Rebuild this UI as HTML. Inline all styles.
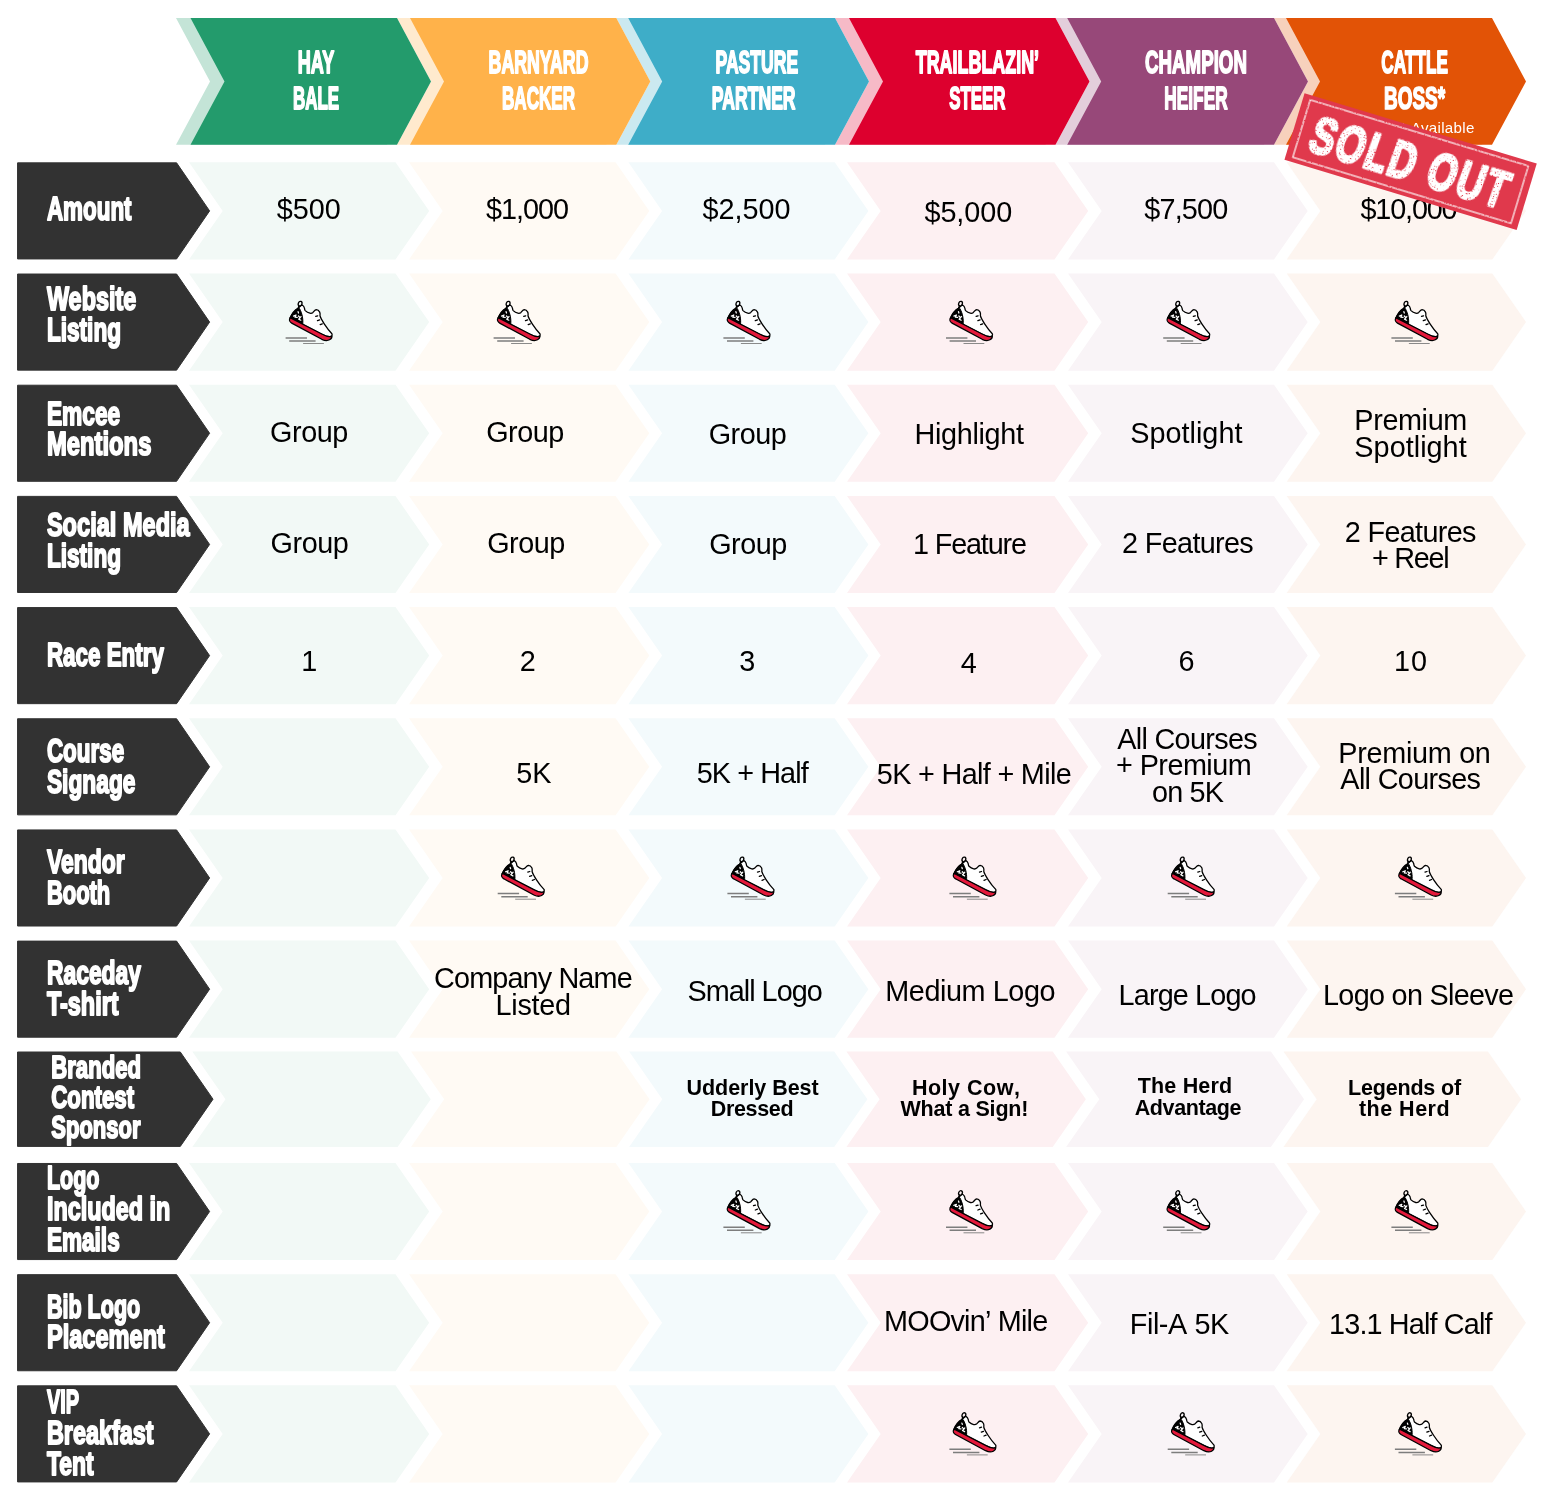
<!DOCTYPE html>
<html lang="en">
<head>
<meta charset="utf-8">
<title>Sponsorship Levels</title>
<style>
html,body{margin:0;padding:0;background:#fff;}
body{width:1545px;height:1497px;overflow:hidden;font-family:"Liberation Sans",sans-serif;}
svg{display:block;}
svg text{white-space:pre;}
</style>
</head>
<body>
<svg width="1545" height="1497" viewBox="0 0 1545 1497">
<rect width="1545" height="1497" fill="#fff"/>
<polygon points="176,18 387,18 421,81.4 387,144.8 176,144.8 210,81.4" fill="#c4e4d7"/>
<polygon points="397,18 606.3,18 640.3,81.4 606.3,144.8 397,144.8 431,81.4" fill="#ffeace"/>
<polygon points="616.3,18 825,18 859,81.4 825,144.8 616.3,144.8 650.3,81.4" fill="#cbe9f0"/>
<polygon points="835,18 1045.5,18 1079.5,81.4 1045.5,144.8 835,144.8 869,81.4" fill="#f6bac7"/>
<polygon points="1055.5,18 1264,18 1298,81.4 1264,144.8 1055.5,144.8 1089.5,81.4" fill="#e3cedb"/>
<polygon points="1274,18 1482,18 1516,81.4 1482,144.8 1274,144.8 1308,81.4" fill="#f7d1bc"/>
<polygon points="190.5,18 397,18 431,81.4 397,144.8 190.5,144.8 224.5,81.4" fill="#239b6c"/>
<polygon points="410,18 616.3,18 650.3,81.4 616.3,144.8 410,144.8 444,81.4" fill="#ffb24a"/>
<polygon points="628.2,18 835,18 869,81.4 835,144.8 628.2,144.8 662.2,81.4" fill="#3eadc8"/>
<polygon points="849,18 1055.5,18 1089.5,81.4 1055.5,144.8 849,144.8 883,81.4" fill="#dd002e"/>
<polygon points="1067.2,18 1274,18 1308,81.4 1274,144.8 1067.2,144.8 1101.2,81.4" fill="#974879"/>
<polygon points="1286,18 1492,18 1526,81.4 1492,144.8 1286,144.8 1320,81.4" fill="#e25306"/>
<polygon points="17.55,162.85 176.6,162.85 209.6,210.9 176.6,258.95 17.55,258.95" fill="#323232" stroke="#323232" stroke-width="1" stroke-linejoin="round"/>
<polygon points="189,162.35 395.5,162.35 429.2,210.9 395.5,259.45 189,259.45 222.7,210.9" fill="#f2f9f6"/>
<polygon points="409,162.35 615.6,162.35 649.3,210.9 615.6,259.45 409,259.45 442.7,210.9" fill="#fffaf4"/>
<polygon points="628.4,162.35 834.7,162.35 868.4,210.9 834.7,259.45 628.4,259.45 662.1,210.9" fill="#f3fafc"/>
<polygon points="847,162.35 1054.5,162.35 1088.2,210.9 1054.5,259.45 847,259.45 880.7,210.9" fill="#fdf0f2"/>
<polygon points="1068,162.35 1274,162.35 1307.7,210.9 1274,259.45 1068,259.45 1101.7,210.9" fill="#f9f4f7"/>
<polygon points="1286.7,162.35 1492.3,162.35 1526,210.9 1492.3,259.45 1286.7,259.45 1320.4,210.9" fill="#fdf5f0"/>
<polygon points="17.55,274.03 176.6,274.03 209.6,322.08 176.6,370.13 17.55,370.13" fill="#323232" stroke="#323232" stroke-width="1" stroke-linejoin="round"/>
<polygon points="189,273.53 395.5,273.53 429.2,322.08 395.5,370.63 189,370.63 222.7,322.08" fill="#f2f9f6"/>
<polygon points="409,273.53 615.6,273.53 649.3,322.08 615.6,370.63 409,370.63 442.7,322.08" fill="#fffaf4"/>
<polygon points="628.4,273.53 834.7,273.53 868.4,322.08 834.7,370.63 628.4,370.63 662.1,322.08" fill="#f3fafc"/>
<polygon points="847,273.53 1054.5,273.53 1088.2,322.08 1054.5,370.63 847,370.63 880.7,322.08" fill="#fdf0f2"/>
<polygon points="1068,273.53 1274,273.53 1307.7,322.08 1274,370.63 1068,370.63 1101.7,322.08" fill="#f9f4f7"/>
<polygon points="1286.7,273.53 1492.3,273.53 1526,322.08 1492.3,370.63 1286.7,370.63 1320.4,322.08" fill="#fdf5f0"/>
<polygon points="17.55,385.21 176.6,385.21 209.6,433.26 176.6,481.31 17.55,481.31" fill="#323232" stroke="#323232" stroke-width="1" stroke-linejoin="round"/>
<polygon points="189,384.71 395.5,384.71 429.2,433.26 395.5,481.81 189,481.81 222.7,433.26" fill="#f2f9f6"/>
<polygon points="409,384.71 615.6,384.71 649.3,433.26 615.6,481.81 409,481.81 442.7,433.26" fill="#fffaf4"/>
<polygon points="628.4,384.71 834.7,384.71 868.4,433.26 834.7,481.81 628.4,481.81 662.1,433.26" fill="#f3fafc"/>
<polygon points="847,384.71 1054.5,384.71 1088.2,433.26 1054.5,481.81 847,481.81 880.7,433.26" fill="#fdf0f2"/>
<polygon points="1068,384.71 1274,384.71 1307.7,433.26 1274,481.81 1068,481.81 1101.7,433.26" fill="#f9f4f7"/>
<polygon points="1286.7,384.71 1492.3,384.71 1526,433.26 1492.3,481.81 1286.7,481.81 1320.4,433.26" fill="#fdf5f0"/>
<polygon points="17.55,496.39 176.6,496.39 209.6,544.44 176.6,592.49 17.55,592.49" fill="#323232" stroke="#323232" stroke-width="1" stroke-linejoin="round"/>
<polygon points="189,495.89 395.5,495.89 429.2,544.44 395.5,592.99 189,592.99 222.7,544.44" fill="#f2f9f6"/>
<polygon points="409,495.89 615.6,495.89 649.3,544.44 615.6,592.99 409,592.99 442.7,544.44" fill="#fffaf4"/>
<polygon points="628.4,495.89 834.7,495.89 868.4,544.44 834.7,592.99 628.4,592.99 662.1,544.44" fill="#f3fafc"/>
<polygon points="847,495.89 1054.5,495.89 1088.2,544.44 1054.5,592.99 847,592.99 880.7,544.44" fill="#fdf0f2"/>
<polygon points="1068,495.89 1274,495.89 1307.7,544.44 1274,592.99 1068,592.99 1101.7,544.44" fill="#f9f4f7"/>
<polygon points="1286.7,495.89 1492.3,495.89 1526,544.44 1492.3,592.99 1286.7,592.99 1320.4,544.44" fill="#fdf5f0"/>
<polygon points="17.55,607.57 176.6,607.57 209.6,655.62 176.6,703.67 17.55,703.67" fill="#323232" stroke="#323232" stroke-width="1" stroke-linejoin="round"/>
<polygon points="189,607.07 395.5,607.07 429.2,655.62 395.5,704.17 189,704.17 222.7,655.62" fill="#f2f9f6"/>
<polygon points="409,607.07 615.6,607.07 649.3,655.62 615.6,704.17 409,704.17 442.7,655.62" fill="#fffaf4"/>
<polygon points="628.4,607.07 834.7,607.07 868.4,655.62 834.7,704.17 628.4,704.17 662.1,655.62" fill="#f3fafc"/>
<polygon points="847,607.07 1054.5,607.07 1088.2,655.62 1054.5,704.17 847,704.17 880.7,655.62" fill="#fdf0f2"/>
<polygon points="1068,607.07 1274,607.07 1307.7,655.62 1274,704.17 1068,704.17 1101.7,655.62" fill="#f9f4f7"/>
<polygon points="1286.7,607.07 1492.3,607.07 1526,655.62 1492.3,704.17 1286.7,704.17 1320.4,655.62" fill="#fdf5f0"/>
<polygon points="17.55,718.75 176.6,718.75 209.6,766.8 176.6,814.85 17.55,814.85" fill="#323232" stroke="#323232" stroke-width="1" stroke-linejoin="round"/>
<polygon points="189,718.25 395.5,718.25 429.2,766.8 395.5,815.35 189,815.35 222.7,766.8" fill="#f2f9f6"/>
<polygon points="409,718.25 615.6,718.25 649.3,766.8 615.6,815.35 409,815.35 442.7,766.8" fill="#fffaf4"/>
<polygon points="628.4,718.25 834.7,718.25 868.4,766.8 834.7,815.35 628.4,815.35 662.1,766.8" fill="#f3fafc"/>
<polygon points="847,718.25 1054.5,718.25 1088.2,766.8 1054.5,815.35 847,815.35 880.7,766.8" fill="#fdf0f2"/>
<polygon points="1068,718.25 1274,718.25 1307.7,766.8 1274,815.35 1068,815.35 1101.7,766.8" fill="#f9f4f7"/>
<polygon points="1286.7,718.25 1492.3,718.25 1526,766.8 1492.3,815.35 1286.7,815.35 1320.4,766.8" fill="#fdf5f0"/>
<polygon points="17.55,829.93 176.6,829.93 209.6,877.98 176.6,926.03 17.55,926.03" fill="#323232" stroke="#323232" stroke-width="1" stroke-linejoin="round"/>
<polygon points="189,829.43 395.5,829.43 429.2,877.98 395.5,926.53 189,926.53 222.7,877.98" fill="#f2f9f6"/>
<polygon points="409,829.43 615.6,829.43 649.3,877.98 615.6,926.53 409,926.53 442.7,877.98" fill="#fffaf4"/>
<polygon points="628.4,829.43 834.7,829.43 868.4,877.98 834.7,926.53 628.4,926.53 662.1,877.98" fill="#f3fafc"/>
<polygon points="847,829.43 1054.5,829.43 1088.2,877.98 1054.5,926.53 847,926.53 880.7,877.98" fill="#fdf0f2"/>
<polygon points="1068,829.43 1274,829.43 1307.7,877.98 1274,926.53 1068,926.53 1101.7,877.98" fill="#f9f4f7"/>
<polygon points="1286.7,829.43 1492.3,829.43 1526,877.98 1492.3,926.53 1286.7,926.53 1320.4,877.98" fill="#fdf5f0"/>
<polygon points="17.55,941.11 176.6,941.11 209.6,989.16 176.6,1037.21 17.55,1037.21" fill="#323232" stroke="#323232" stroke-width="1" stroke-linejoin="round"/>
<polygon points="189,940.61 395.5,940.61 429.2,989.16 395.5,1037.71 189,1037.71 222.7,989.16" fill="#f2f9f6"/>
<polygon points="409,940.61 615.6,940.61 649.3,989.16 615.6,1037.71 409,1037.71 442.7,989.16" fill="#fffaf4"/>
<polygon points="628.4,940.61 834.7,940.61 868.4,989.16 834.7,1037.71 628.4,1037.71 662.1,989.16" fill="#f3fafc"/>
<polygon points="847,940.61 1054.5,940.61 1088.2,989.16 1054.5,1037.71 847,1037.71 880.7,989.16" fill="#fdf0f2"/>
<polygon points="1068,940.61 1274,940.61 1307.7,989.16 1274,1037.71 1068,1037.71 1101.7,989.16" fill="#f9f4f7"/>
<polygon points="1286.7,940.61 1492.3,940.61 1526,989.16 1492.3,1037.71 1286.7,1037.71 1320.4,989.16" fill="#fdf5f0"/>
<polygon points="17.5,1052 180.3,1052 213,1099.2 180.3,1146.4 17.5,1146.4" fill="#323232" stroke="#323232" stroke-width="1" stroke-linejoin="round"/>
<polygon points="192.3,1051.5 397.58,1051.5 430.78,1099.2 397.58,1146.9 192.3,1146.9 225.5,1099.2" fill="#f2f9f6"/>
<polygon points="411,1051.5 616.38,1051.5 649.58,1099.2 616.38,1146.9 411,1146.9 444.2,1099.2" fill="#fffaf4"/>
<polygon points="629.11,1051.5 834.19,1051.5 867.39,1099.2 834.19,1146.9 629.11,1146.9 662.31,1099.2" fill="#f3fafc"/>
<polygon points="846.42,1051.5 1052.69,1051.5 1085.89,1099.2 1052.69,1146.9 846.42,1146.9 879.62,1099.2" fill="#fdf0f2"/>
<polygon points="1066.11,1051.5 1270.9,1051.5 1304.1,1099.2 1270.9,1146.9 1066.11,1146.9 1099.31,1099.2" fill="#f9f4f7"/>
<polygon points="1283.52,1051.5 1487.91,1051.5 1521.11,1099.2 1487.91,1146.9 1283.52,1146.9 1316.72,1099.2" fill="#fdf5f0"/>
<polygon points="17.55,1163.47 176.6,1163.47 209.6,1211.52 176.6,1259.57 17.55,1259.57" fill="#323232" stroke="#323232" stroke-width="1" stroke-linejoin="round"/>
<polygon points="189,1162.97 395.5,1162.97 429.2,1211.52 395.5,1260.07 189,1260.07 222.7,1211.52" fill="#f2f9f6"/>
<polygon points="409,1162.97 615.6,1162.97 649.3,1211.52 615.6,1260.07 409,1260.07 442.7,1211.52" fill="#fffaf4"/>
<polygon points="628.4,1162.97 834.7,1162.97 868.4,1211.52 834.7,1260.07 628.4,1260.07 662.1,1211.52" fill="#f3fafc"/>
<polygon points="847,1162.97 1054.5,1162.97 1088.2,1211.52 1054.5,1260.07 847,1260.07 880.7,1211.52" fill="#fdf0f2"/>
<polygon points="1068,1162.97 1274,1162.97 1307.7,1211.52 1274,1260.07 1068,1260.07 1101.7,1211.52" fill="#f9f4f7"/>
<polygon points="1286.7,1162.97 1492.3,1162.97 1526,1211.52 1492.3,1260.07 1286.7,1260.07 1320.4,1211.52" fill="#fdf5f0"/>
<polygon points="17.55,1274.65 176.6,1274.65 209.6,1322.7 176.6,1370.75 17.55,1370.75" fill="#323232" stroke="#323232" stroke-width="1" stroke-linejoin="round"/>
<polygon points="189,1274.15 395.5,1274.15 429.2,1322.7 395.5,1371.25 189,1371.25 222.7,1322.7" fill="#f2f9f6"/>
<polygon points="409,1274.15 615.6,1274.15 649.3,1322.7 615.6,1371.25 409,1371.25 442.7,1322.7" fill="#fffaf4"/>
<polygon points="628.4,1274.15 834.7,1274.15 868.4,1322.7 834.7,1371.25 628.4,1371.25 662.1,1322.7" fill="#f3fafc"/>
<polygon points="847,1274.15 1054.5,1274.15 1088.2,1322.7 1054.5,1371.25 847,1371.25 880.7,1322.7" fill="#fdf0f2"/>
<polygon points="1068,1274.15 1274,1274.15 1307.7,1322.7 1274,1371.25 1068,1371.25 1101.7,1322.7" fill="#f9f4f7"/>
<polygon points="1286.7,1274.15 1492.3,1274.15 1526,1322.7 1492.3,1371.25 1286.7,1371.25 1320.4,1322.7" fill="#fdf5f0"/>
<polygon points="17.55,1385.83 176.6,1385.83 209.6,1433.88 176.6,1481.93 17.55,1481.93" fill="#323232" stroke="#323232" stroke-width="1" stroke-linejoin="round"/>
<polygon points="189,1385.33 395.5,1385.33 429.2,1433.88 395.5,1482.43 189,1482.43 222.7,1433.88" fill="#f2f9f6"/>
<polygon points="409,1385.33 615.6,1385.33 649.3,1433.88 615.6,1482.43 409,1482.43 442.7,1433.88" fill="#fffaf4"/>
<polygon points="628.4,1385.33 834.7,1385.33 868.4,1433.88 834.7,1482.43 628.4,1482.43 662.1,1433.88" fill="#f3fafc"/>
<polygon points="847,1385.33 1054.5,1385.33 1088.2,1433.88 1054.5,1482.43 847,1482.43 880.7,1433.88" fill="#fdf0f2"/>
<polygon points="1068,1385.33 1274,1385.33 1307.7,1433.88 1274,1482.43 1068,1482.43 1101.7,1433.88" fill="#f9f4f7"/>
<polygon points="1286.7,1385.33 1492.3,1385.33 1526,1433.88 1492.3,1482.43 1286.7,1482.43 1320.4,1433.88" fill="#fdf5f0"/>
<text transform="translate(316 73.15) scale(0.5893 1.0)" text-anchor="middle" font-family="'Liberation Sans', sans-serif" font-weight="700" font-size="30.73" fill="#fff" stroke="#fff" stroke-width="1.45" stroke-linejoin="round" vector-effect="non-scaling-stroke">HAY</text>
<text transform="translate(316 109.45) scale(0.5522 1.0)" text-anchor="middle" font-family="'Liberation Sans', sans-serif" font-weight="700" font-size="30.73" fill="#fff" stroke="#fff" stroke-width="1.45" stroke-linejoin="round" vector-effect="non-scaling-stroke">BALE</text>
<text transform="translate(538.5 73.15) scale(0.5776 1.0)" text-anchor="middle" font-family="'Liberation Sans', sans-serif" font-weight="700" font-size="30.73" fill="#fff" stroke="#fff" stroke-width="1.45" stroke-linejoin="round" vector-effect="non-scaling-stroke">BARNYARD</text>
<text transform="translate(538.5 109.45) scale(0.5565 1.0)" text-anchor="middle" font-family="'Liberation Sans', sans-serif" font-weight="700" font-size="30.73" fill="#fff" stroke="#fff" stroke-width="1.45" stroke-linejoin="round" vector-effect="non-scaling-stroke">BACKER</text>
<text transform="translate(756.8 73.15) scale(0.5722 1.0)" text-anchor="middle" font-family="'Liberation Sans', sans-serif" font-weight="700" font-size="30.73" fill="#fff" stroke="#fff" stroke-width="1.45" stroke-linejoin="round" vector-effect="non-scaling-stroke">PASTURE</text>
<text transform="translate(753.7 109.45) scale(0.5727 1.0)" text-anchor="middle" font-family="'Liberation Sans', sans-serif" font-weight="700" font-size="30.73" fill="#fff" stroke="#fff" stroke-width="1.45" stroke-linejoin="round" vector-effect="non-scaling-stroke">PARTNER</text>
<text transform="translate(977.4 73.15) scale(0.5832 1.0)" text-anchor="middle" font-family="'Liberation Sans', sans-serif" font-weight="700" font-size="30.73" fill="#fff" stroke="#fff" stroke-width="1.45" stroke-linejoin="round" vector-effect="non-scaling-stroke">TRAILBLAZIN’</text>
<text transform="translate(977.4 109.45) scale(0.5493 1.0)" text-anchor="middle" font-family="'Liberation Sans', sans-serif" font-weight="700" font-size="30.73" fill="#fff" stroke="#fff" stroke-width="1.45" stroke-linejoin="round" vector-effect="non-scaling-stroke">STEER</text>
<text transform="translate(1196 73.15) scale(0.6086 1.0)" text-anchor="middle" font-family="'Liberation Sans', sans-serif" font-weight="700" font-size="30.73" fill="#fff" stroke="#fff" stroke-width="1.45" stroke-linejoin="round" vector-effect="non-scaling-stroke">CHAMPION</text>
<text transform="translate(1196 109.45) scale(0.5619 1.0)" text-anchor="middle" font-family="'Liberation Sans', sans-serif" font-weight="700" font-size="30.73" fill="#fff" stroke="#fff" stroke-width="1.45" stroke-linejoin="round" vector-effect="non-scaling-stroke">HEIFER</text>
<text transform="translate(1414.6 73.15) scale(0.5596 1.0)" text-anchor="middle" font-family="'Liberation Sans', sans-serif" font-weight="700" font-size="30.73" fill="#fff" stroke="#fff" stroke-width="1.45" stroke-linejoin="round" vector-effect="non-scaling-stroke">CATTLE</text>
<text transform="translate(1414.6 109.45) scale(0.6169 1.0)" text-anchor="middle" font-family="'Liberation Sans', sans-serif" font-weight="700" font-size="30.73" fill="#fff" stroke="#fff" stroke-width="1.45" stroke-linejoin="round" vector-effect="non-scaling-stroke">BOSS*</text>
<text x="1474.6" y="133.1" text-anchor="end" font-family="'Liberation Sans', sans-serif" font-size="15.1" fill="#fff" letter-spacing="0.3">*Only 1 Available</text>
<text transform="translate(46.9 220.34) scale(0.6693 1.0)" text-anchor="start" font-family="'Liberation Sans', sans-serif" font-weight="700" font-size="33.51" fill="#fff" stroke="#fff" stroke-width="1.7" stroke-linejoin="round" vector-effect="non-scaling-stroke">Amount</text>
<text transform="translate(46.9 309.74) scale(0.6997 1.0)" text-anchor="start" font-family="'Liberation Sans', sans-serif" font-weight="700" font-size="33.51" fill="#fff" stroke="#fff" stroke-width="1.7" stroke-linejoin="round" vector-effect="non-scaling-stroke">Website</text>
<text transform="translate(46.9 341.13) scale(0.6752 1.0)" text-anchor="start" font-family="'Liberation Sans', sans-serif" font-weight="700" font-size="33.51" fill="#fff" stroke="#fff" stroke-width="1.7" stroke-linejoin="round" vector-effect="non-scaling-stroke">Listing</text>
<text transform="translate(46.9 425.04) scale(0.6789 1.0)" text-anchor="start" font-family="'Liberation Sans', sans-serif" font-weight="700" font-size="33.51" fill="#fff" stroke="#fff" stroke-width="1.7" stroke-linejoin="round" vector-effect="non-scaling-stroke">Emcee</text>
<text transform="translate(46.9 455.13) scale(0.7109 1.0)" text-anchor="start" font-family="'Liberation Sans', sans-serif" font-weight="700" font-size="33.51" fill="#fff" stroke="#fff" stroke-width="1.7" stroke-linejoin="round" vector-effect="non-scaling-stroke">Mentions</text>
<text transform="translate(46.9 535.94) scale(0.7035 1.0)" text-anchor="start" font-family="'Liberation Sans', sans-serif" font-weight="700" font-size="33.51" fill="#fff" stroke="#fff" stroke-width="1.7" stroke-linejoin="round" vector-effect="non-scaling-stroke">Social Media</text>
<text transform="translate(46.9 567.13) scale(0.6752 1.0)" text-anchor="start" font-family="'Liberation Sans', sans-serif" font-weight="700" font-size="33.51" fill="#fff" stroke="#fff" stroke-width="1.7" stroke-linejoin="round" vector-effect="non-scaling-stroke">Listing</text>
<text transform="translate(46.9 666.44) scale(0.6684 1.0)" text-anchor="start" font-family="'Liberation Sans', sans-serif" font-weight="700" font-size="33.51" fill="#fff" stroke="#fff" stroke-width="1.7" stroke-linejoin="round" vector-effect="non-scaling-stroke">Race Entry</text>
<text transform="translate(46.9 761.84) scale(0.6698 1.0)" text-anchor="start" font-family="'Liberation Sans', sans-serif" font-weight="700" font-size="33.51" fill="#fff" stroke="#fff" stroke-width="1.7" stroke-linejoin="round" vector-effect="non-scaling-stroke">Course</text>
<text transform="translate(46.9 792.74) scale(0.6799 1.0)" text-anchor="start" font-family="'Liberation Sans', sans-serif" font-weight="700" font-size="33.51" fill="#fff" stroke="#fff" stroke-width="1.7" stroke-linejoin="round" vector-effect="non-scaling-stroke">Signage</text>
<text transform="translate(46.9 872.94) scale(0.6852 1.0)" text-anchor="start" font-family="'Liberation Sans', sans-serif" font-weight="700" font-size="33.51" fill="#fff" stroke="#fff" stroke-width="1.7" stroke-linejoin="round" vector-effect="non-scaling-stroke">Vendor</text>
<text transform="translate(46.9 903.94) scale(0.6552 1.0)" text-anchor="start" font-family="'Liberation Sans', sans-serif" font-weight="700" font-size="33.51" fill="#fff" stroke="#fff" stroke-width="1.7" stroke-linejoin="round" vector-effect="non-scaling-stroke">Booth</text>
<text transform="translate(46.9 984.03) scale(0.6834 1.0)" text-anchor="start" font-family="'Liberation Sans', sans-serif" font-weight="700" font-size="33.51" fill="#fff" stroke="#fff" stroke-width="1.7" stroke-linejoin="round" vector-effect="non-scaling-stroke">Raceday</text>
<text transform="translate(46.9 1014.94) scale(0.7011 1.0)" text-anchor="start" font-family="'Liberation Sans', sans-serif" font-weight="700" font-size="33.51" fill="#fff" stroke="#fff" stroke-width="1.7" stroke-linejoin="round" vector-effect="non-scaling-stroke">T-shirt</text>
<text transform="translate(51.3 1077.73) scale(0.6751 0.955)" text-anchor="start" font-family="'Liberation Sans', sans-serif" font-weight="700" font-size="32.76" fill="#fff" stroke="#fff" stroke-width="1.7" stroke-linejoin="round" vector-effect="non-scaling-stroke">Branded</text>
<text transform="translate(51.3 1107.73) scale(0.6796 0.955)" text-anchor="start" font-family="'Liberation Sans', sans-serif" font-weight="700" font-size="32.76" fill="#fff" stroke="#fff" stroke-width="1.7" stroke-linejoin="round" vector-effect="non-scaling-stroke">Contest</text>
<text transform="translate(51.3 1137.53) scale(0.6718 0.955)" text-anchor="start" font-family="'Liberation Sans', sans-serif" font-weight="700" font-size="32.76" fill="#fff" stroke="#fff" stroke-width="1.7" stroke-linejoin="round" vector-effect="non-scaling-stroke">Sponsor</text>
<text transform="translate(46.9 1188.93) scale(0.6418 1.0)" text-anchor="start" font-family="'Liberation Sans', sans-serif" font-weight="700" font-size="33.51" fill="#fff" stroke="#fff" stroke-width="1.7" stroke-linejoin="round" vector-effect="non-scaling-stroke">Logo</text>
<text transform="translate(46.9 1220.13) scale(0.6977 1.0)" text-anchor="start" font-family="'Liberation Sans', sans-serif" font-weight="700" font-size="33.51" fill="#fff" stroke="#fff" stroke-width="1.7" stroke-linejoin="round" vector-effect="non-scaling-stroke">Included in</text>
<text transform="translate(46.9 1251.13) scale(0.6742 1.0)" text-anchor="start" font-family="'Liberation Sans', sans-serif" font-weight="700" font-size="33.51" fill="#fff" stroke="#fff" stroke-width="1.7" stroke-linejoin="round" vector-effect="non-scaling-stroke">Emails</text>
<text transform="translate(46.9 1317.63) scale(0.6432 1.0)" text-anchor="start" font-family="'Liberation Sans', sans-serif" font-weight="700" font-size="33.51" fill="#fff" stroke="#fff" stroke-width="1.7" stroke-linejoin="round" vector-effect="non-scaling-stroke">Bib Logo</text>
<text transform="translate(46.9 1347.73) scale(0.7042 1.0)" text-anchor="start" font-family="'Liberation Sans', sans-serif" font-weight="700" font-size="33.51" fill="#fff" stroke="#fff" stroke-width="1.7" stroke-linejoin="round" vector-effect="non-scaling-stroke">Placement</text>
<text transform="translate(46.9 1413.03) scale(0.5961 1.0)" text-anchor="start" font-family="'Liberation Sans', sans-serif" font-weight="700" font-size="33.51" fill="#fff" stroke="#fff" stroke-width="1.7" stroke-linejoin="round" vector-effect="non-scaling-stroke">VIP</text>
<text transform="translate(46.9 1444.03) scale(0.6991 1.0)" text-anchor="start" font-family="'Liberation Sans', sans-serif" font-weight="700" font-size="33.51" fill="#fff" stroke="#fff" stroke-width="1.7" stroke-linejoin="round" vector-effect="non-scaling-stroke">Breakfast</text>
<text transform="translate(46.9 1474.83) scale(0.6850 1.0)" text-anchor="start" font-family="'Liberation Sans', sans-serif" font-weight="700" font-size="33.51" fill="#fff" stroke="#fff" stroke-width="1.7" stroke-linejoin="round" vector-effect="non-scaling-stroke">Tent</text>
<text x="276.65" y="219.1" font-family="'Liberation Sans', sans-serif" font-size="28.8" letter-spacing="0.05" fill="#000" style="font-kerning:none">$500</text>
<text x="486" y="219.1" font-family="'Liberation Sans', sans-serif" font-size="28.8" letter-spacing="-1.03" fill="#000" style="font-kerning:none">$1,000</text>
<text x="702.6" y="219.1" font-family="'Liberation Sans', sans-serif" font-size="28.8" letter-spacing="-0.03" fill="#000" style="font-kerning:none">$2,500</text>
<text x="924.4" y="221.5" font-family="'Liberation Sans', sans-serif" font-size="28.8" letter-spacing="-0.03" fill="#000" style="font-kerning:none">$5,000</text>
<text x="1144.3" y="219.2" font-family="'Liberation Sans', sans-serif" font-size="28.8" letter-spacing="-0.83" fill="#000" style="font-kerning:none">$7,500</text>
<text x="1360.5" y="219.2" font-family="'Liberation Sans', sans-serif" font-size="28.8" letter-spacing="-1.16" fill="#000" style="font-kerning:none">$10,000</text>
<text x="270.1" y="442.2" font-family="'Liberation Sans', sans-serif" font-size="28.8" letter-spacing="-0.47" fill="#000" style="font-kerning:none">Group</text>
<text x="486.2" y="442.2" font-family="'Liberation Sans', sans-serif" font-size="28.8" letter-spacing="-0.47" fill="#000" style="font-kerning:none">Group</text>
<text x="708.7" y="444.2" font-family="'Liberation Sans', sans-serif" font-size="28.8" letter-spacing="-0.47" fill="#000" style="font-kerning:none">Group</text>
<text x="914.4" y="443.7" font-family="'Liberation Sans', sans-serif" font-size="28.8" letter-spacing="-0.30" fill="#000" style="font-kerning:none">Highlight</text>
<text x="1130.15" y="442.7" font-family="'Liberation Sans', sans-serif" font-size="28.8" letter-spacing="0.03" fill="#000" style="font-kerning:none">Spotlight</text>
<text x="1354.35" y="430.2" font-family="'Liberation Sans', sans-serif" font-size="28.8" letter-spacing="-0.38" fill="#000" style="font-kerning:none">Premium</text>
<text x="1354.35" y="456.8" font-family="'Liberation Sans', sans-serif" font-size="28.8" letter-spacing="0.03" fill="#000" style="font-kerning:none">Spotlight</text>
<text x="270.6" y="552.8" font-family="'Liberation Sans', sans-serif" font-size="28.8" letter-spacing="-0.47" fill="#000" style="font-kerning:none">Group</text>
<text x="487.2" y="552.8" font-family="'Liberation Sans', sans-serif" font-size="28.8" letter-spacing="-0.47" fill="#000" style="font-kerning:none">Group</text>
<text x="709.2" y="554.3" font-family="'Liberation Sans', sans-serif" font-size="28.8" letter-spacing="-0.47" fill="#000" style="font-kerning:none">Group</text>
<text x="913.1" y="554.1" font-family="'Liberation Sans', sans-serif" font-size="28.8" letter-spacing="-1.18" fill="#000" style="font-kerning:none">1 Feature</text>
<text x="1122.1" y="553.1" font-family="'Liberation Sans', sans-serif" font-size="28.8" letter-spacing="-0.67" fill="#000" style="font-kerning:none">2 Features</text>
<text x="1344.8" y="541.6" font-family="'Liberation Sans', sans-serif" font-size="28.8" letter-spacing="-0.67" fill="#000" style="font-kerning:none">2 Features</text>
<text x="1371.95" y="568.1" font-family="'Liberation Sans', sans-serif" font-size="28.8" letter-spacing="-1.28" fill="#000" style="font-kerning:none">+ Reel</text>
<text x="301.14" y="670.9" font-family="'Liberation Sans', sans-serif" font-size="28.8" letter-spacing="1.00" fill="#000" style="font-kerning:none">1</text>
<text x="519.84" y="670.8" font-family="'Liberation Sans', sans-serif" font-size="28.8" letter-spacing="1.00" fill="#000" style="font-kerning:none">2</text>
<text x="739.34" y="670.9" font-family="'Liberation Sans', sans-serif" font-size="28.8" letter-spacing="1.00" fill="#000" style="font-kerning:none">3</text>
<text x="960.84" y="672.5" font-family="'Liberation Sans', sans-serif" font-size="28.8" letter-spacing="1.00" fill="#000" style="font-kerning:none">4</text>
<text x="1178.54" y="671" font-family="'Liberation Sans', sans-serif" font-size="28.8" letter-spacing="1.00" fill="#000" style="font-kerning:none">6</text>
<text x="1394.02" y="671" font-family="'Liberation Sans', sans-serif" font-size="28.8" letter-spacing="1.00" fill="#000" style="font-kerning:none">10</text>
<text x="516.33" y="783.3" font-family="'Liberation Sans', sans-serif" font-size="28.8" letter-spacing="0.00" fill="#000" style="font-kerning:none">5K</text>
<text x="696.75" y="782.8" font-family="'Liberation Sans', sans-serif" font-size="28.8" letter-spacing="-0.92" fill="#000" style="font-kerning:none">5K + Half</text>
<text x="876.85" y="783.8" font-family="'Liberation Sans', sans-serif" font-size="28.8" letter-spacing="-0.67" fill="#000" style="font-kerning:none">5K + Half + Mile</text>
<text x="1117.15" y="748.6" font-family="'Liberation Sans', sans-serif" font-size="28.8" letter-spacing="-0.67" fill="#000" style="font-kerning:none">All Courses</text>
<text x="1116" y="775.2" font-family="'Liberation Sans', sans-serif" font-size="28.8" letter-spacing="-0.55" fill="#000" style="font-kerning:none">+ Premium</text>
<text x="1152.1" y="802.3" font-family="'Liberation Sans', sans-serif" font-size="28.8" letter-spacing="-0.84" fill="#000" style="font-kerning:none">on 5K</text>
<text x="1338.35" y="763.2" font-family="'Liberation Sans', sans-serif" font-size="28.8" letter-spacing="-0.30" fill="#000" style="font-kerning:none">Premium on</text>
<text x="1340.35" y="789.3" font-family="'Liberation Sans', sans-serif" font-size="28.8" letter-spacing="-0.67" fill="#000" style="font-kerning:none">All Courses</text>
<text x="434.05" y="987.5" font-family="'Liberation Sans', sans-serif" font-size="28.8" letter-spacing="-0.86" fill="#000" style="font-kerning:none">Company Name</text>
<text x="495.55" y="1014.6" font-family="'Liberation Sans', sans-serif" font-size="28.8" letter-spacing="-0.28" fill="#000" style="font-kerning:none">Listed</text>
<text x="687.45" y="1001" font-family="'Liberation Sans', sans-serif" font-size="28.8" letter-spacing="-0.97" fill="#000" style="font-kerning:none">Small Logo</text>
<text x="885.25" y="1001.2" font-family="'Liberation Sans', sans-serif" font-size="28.8" letter-spacing="-0.42" fill="#000" style="font-kerning:none">Medium Logo</text>
<text x="1118.6" y="1005" font-family="'Liberation Sans', sans-serif" font-size="28.8" letter-spacing="-0.86" fill="#000" style="font-kerning:none">Large Logo</text>
<text x="1323" y="1005" font-family="'Liberation Sans', sans-serif" font-size="28.8" letter-spacing="-0.70" fill="#000" style="font-kerning:none">Logo on Sleeve</text>
<text x="686.55" y="1095.2" font-family="'Liberation Sans', sans-serif" font-size="21.5" font-weight="700" letter-spacing="-0.05" fill="#000" style="font-kerning:none">Udderly Best</text>
<text x="710.8" y="1116.2" font-family="'Liberation Sans', sans-serif" font-size="21.5" font-weight="700" letter-spacing="-0.35" fill="#000" style="font-kerning:none">Dressed</text>
<text x="911.95" y="1095.2" font-family="'Liberation Sans', sans-serif" font-size="21.5" font-weight="700" letter-spacing="0.51" fill="#000" style="font-kerning:none">Holy Cow,</text>
<text x="900.45" y="1116.2" font-family="'Liberation Sans', sans-serif" font-size="21.5" font-weight="700" letter-spacing="-0.20" fill="#000" style="font-kerning:none">What a Sign!</text>
<text x="1137.75" y="1093.2" font-family="'Liberation Sans', sans-serif" font-size="21.5" font-weight="700" letter-spacing="0.17" fill="#000" style="font-kerning:none">The Herd</text>
<text x="1134.7" y="1115.2" font-family="'Liberation Sans', sans-serif" font-size="21.5" font-weight="700" letter-spacing="-0.38" fill="#000" style="font-kerning:none">Advantage</text>
<text x="1347.95" y="1095.2" font-family="'Liberation Sans', sans-serif" font-size="21.5" font-weight="700" letter-spacing="-0.17" fill="#000" style="font-kerning:none">Legends of</text>
<text x="1358.9" y="1116.2" font-family="'Liberation Sans', sans-serif" font-size="21.5" font-weight="700" letter-spacing="0.50" fill="#000" style="font-kerning:none">the Herd</text>
<text x="884.1" y="1330.8" font-family="'Liberation Sans', sans-serif" font-size="28.8" letter-spacing="-0.79" fill="#000" style="font-kerning:none">MOOvin’ Mile</text>
<text x="1129.7" y="1334" font-family="'Liberation Sans', sans-serif" font-size="28.8" letter-spacing="-0.40" fill="#000" style="font-kerning:none">Fil-A 5K</text>
<text x="1329.05" y="1334" font-family="'Liberation Sans', sans-serif" font-size="28.8" letter-spacing="-0.85" fill="#000" style="font-kerning:none">13.1 Half Calf</text>
<g transform="translate(285.3 300.5)" stroke-linecap="round" stroke-linejoin="round">
<path d="M0.3 37.4H21.7M3.9 40.5H30.3" stroke="#7d7d7d" stroke-width="1.5" fill="none" stroke-linecap="butt"/>
<path d="M17.8 43H38.6" stroke="#7d7d7d" stroke-width="0.9" fill="none" stroke-linecap="butt"/>
<path d="M12.7 7.8C9.2 9.6 6.4 13.6 4.7 17.6L36.5 33.8C40 35.6 44 37.2 46.5 35.6C46.9 34.6 46.9 33.8 46.6 33.2C44.5 31 41.5 27.3 39.1 23.6C37 20.4 35.3 17.4 34.7 15.3C34.9 13.6 34.9 12.6 34.4 11.6C33.7 10.3 32.4 9.2 31 9.1C29.6 9.3 28.8 10.8 27.7 11.9C26.7 12.8 25.6 12.9 24.6 12.7C23 12.4 21.2 11.4 19.9 10.1C19.2 9.2 19.3 8.2 19.1 7.4C18.9 6.4 18.2 5.2 16.6 4.2Z" fill="#fff" stroke="#000" stroke-width="1.3"/>
<path d="M12.9 7.7C9.2 9.6 6.4 13.6 4.7 17.6L17.4 24C17.9 19.5 17.3 13.5 14.3 8.2Z" fill="#000" stroke="#000" stroke-width="1"/>
<path d="M8.2 15.6L10.7 14.5L9.7 16.7L11.9 16.9M13.2 15.5L14.8 17.2L13.4 18.6L15.5 19.7M14.8 17.2L15.7 16M12.8 11.2L13.2 12.5" stroke="#fff" stroke-width="1.25" fill="none"/>
<path d="M5.2 17.3L36.5 33.5C40 35.4 44 37.2 46.5 35.6C46.8 37 45.5 38.6 44.2 39.3C42 40.5 39 40 36.5 38.8L6.4 22.6C4.6 21.7 3.8 19.6 4.4 18.2Z" fill="#e4193b" stroke="#000" stroke-width="1.3"/>
<path d="M30.4 15.9L32.4 15.3M32.2 20.2L34.4 19.4M34.9 24.1L37 23.3" stroke="#000" stroke-width="1.3" fill="none"/>
<ellipse cx="14.8" cy="3.2" rx="1.8" ry="2.4" transform="rotate(22 14.8 3.2)" fill="none" stroke="#000" stroke-width="1.3"/>
<path d="M13.6 5.3C13.4 6.3 13.1 7.2 12.8 7.8" stroke="#000" stroke-width="1.3" fill="none"/>
</g>
<g transform="translate(493.3 300.5)" stroke-linecap="round" stroke-linejoin="round">
<path d="M0.3 37.4H21.7M3.9 40.5H30.3" stroke="#7d7d7d" stroke-width="1.5" fill="none" stroke-linecap="butt"/>
<path d="M17.8 43H38.6" stroke="#7d7d7d" stroke-width="0.9" fill="none" stroke-linecap="butt"/>
<path d="M12.7 7.8C9.2 9.6 6.4 13.6 4.7 17.6L36.5 33.8C40 35.6 44 37.2 46.5 35.6C46.9 34.6 46.9 33.8 46.6 33.2C44.5 31 41.5 27.3 39.1 23.6C37 20.4 35.3 17.4 34.7 15.3C34.9 13.6 34.9 12.6 34.4 11.6C33.7 10.3 32.4 9.2 31 9.1C29.6 9.3 28.8 10.8 27.7 11.9C26.7 12.8 25.6 12.9 24.6 12.7C23 12.4 21.2 11.4 19.9 10.1C19.2 9.2 19.3 8.2 19.1 7.4C18.9 6.4 18.2 5.2 16.6 4.2Z" fill="#fff" stroke="#000" stroke-width="1.3"/>
<path d="M12.9 7.7C9.2 9.6 6.4 13.6 4.7 17.6L17.4 24C17.9 19.5 17.3 13.5 14.3 8.2Z" fill="#000" stroke="#000" stroke-width="1"/>
<path d="M8.2 15.6L10.7 14.5L9.7 16.7L11.9 16.9M13.2 15.5L14.8 17.2L13.4 18.6L15.5 19.7M14.8 17.2L15.7 16M12.8 11.2L13.2 12.5" stroke="#fff" stroke-width="1.25" fill="none"/>
<path d="M5.2 17.3L36.5 33.5C40 35.4 44 37.2 46.5 35.6C46.8 37 45.5 38.6 44.2 39.3C42 40.5 39 40 36.5 38.8L6.4 22.6C4.6 21.7 3.8 19.6 4.4 18.2Z" fill="#e4193b" stroke="#000" stroke-width="1.3"/>
<path d="M30.4 15.9L32.4 15.3M32.2 20.2L34.4 19.4M34.9 24.1L37 23.3" stroke="#000" stroke-width="1.3" fill="none"/>
<ellipse cx="14.8" cy="3.2" rx="1.8" ry="2.4" transform="rotate(22 14.8 3.2)" fill="none" stroke="#000" stroke-width="1.3"/>
<path d="M13.6 5.3C13.4 6.3 13.1 7.2 12.8 7.8" stroke="#000" stroke-width="1.3" fill="none"/>
</g>
<g transform="translate(723.1 300.5)" stroke-linecap="round" stroke-linejoin="round">
<path d="M0.3 37.4H21.7M3.9 40.5H30.3" stroke="#7d7d7d" stroke-width="1.5" fill="none" stroke-linecap="butt"/>
<path d="M17.8 43H38.6" stroke="#7d7d7d" stroke-width="0.9" fill="none" stroke-linecap="butt"/>
<path d="M12.7 7.8C9.2 9.6 6.4 13.6 4.7 17.6L36.5 33.8C40 35.6 44 37.2 46.5 35.6C46.9 34.6 46.9 33.8 46.6 33.2C44.5 31 41.5 27.3 39.1 23.6C37 20.4 35.3 17.4 34.7 15.3C34.9 13.6 34.9 12.6 34.4 11.6C33.7 10.3 32.4 9.2 31 9.1C29.6 9.3 28.8 10.8 27.7 11.9C26.7 12.8 25.6 12.9 24.6 12.7C23 12.4 21.2 11.4 19.9 10.1C19.2 9.2 19.3 8.2 19.1 7.4C18.9 6.4 18.2 5.2 16.6 4.2Z" fill="#fff" stroke="#000" stroke-width="1.3"/>
<path d="M12.9 7.7C9.2 9.6 6.4 13.6 4.7 17.6L17.4 24C17.9 19.5 17.3 13.5 14.3 8.2Z" fill="#000" stroke="#000" stroke-width="1"/>
<path d="M8.2 15.6L10.7 14.5L9.7 16.7L11.9 16.9M13.2 15.5L14.8 17.2L13.4 18.6L15.5 19.7M14.8 17.2L15.7 16M12.8 11.2L13.2 12.5" stroke="#fff" stroke-width="1.25" fill="none"/>
<path d="M5.2 17.3L36.5 33.5C40 35.4 44 37.2 46.5 35.6C46.8 37 45.5 38.6 44.2 39.3C42 40.5 39 40 36.5 38.8L6.4 22.6C4.6 21.7 3.8 19.6 4.4 18.2Z" fill="#e4193b" stroke="#000" stroke-width="1.3"/>
<path d="M30.4 15.9L32.4 15.3M32.2 20.2L34.4 19.4M34.9 24.1L37 23.3" stroke="#000" stroke-width="1.3" fill="none"/>
<ellipse cx="14.8" cy="3.2" rx="1.8" ry="2.4" transform="rotate(22 14.8 3.2)" fill="none" stroke="#000" stroke-width="1.3"/>
<path d="M13.6 5.3C13.4 6.3 13.1 7.2 12.8 7.8" stroke="#000" stroke-width="1.3" fill="none"/>
</g>
<g transform="translate(945.7 300.5)" stroke-linecap="round" stroke-linejoin="round">
<path d="M0.3 37.4H21.7M3.9 40.5H30.3" stroke="#7d7d7d" stroke-width="1.5" fill="none" stroke-linecap="butt"/>
<path d="M17.8 43H38.6" stroke="#7d7d7d" stroke-width="0.9" fill="none" stroke-linecap="butt"/>
<path d="M12.7 7.8C9.2 9.6 6.4 13.6 4.7 17.6L36.5 33.8C40 35.6 44 37.2 46.5 35.6C46.9 34.6 46.9 33.8 46.6 33.2C44.5 31 41.5 27.3 39.1 23.6C37 20.4 35.3 17.4 34.7 15.3C34.9 13.6 34.9 12.6 34.4 11.6C33.7 10.3 32.4 9.2 31 9.1C29.6 9.3 28.8 10.8 27.7 11.9C26.7 12.8 25.6 12.9 24.6 12.7C23 12.4 21.2 11.4 19.9 10.1C19.2 9.2 19.3 8.2 19.1 7.4C18.9 6.4 18.2 5.2 16.6 4.2Z" fill="#fff" stroke="#000" stroke-width="1.3"/>
<path d="M12.9 7.7C9.2 9.6 6.4 13.6 4.7 17.6L17.4 24C17.9 19.5 17.3 13.5 14.3 8.2Z" fill="#000" stroke="#000" stroke-width="1"/>
<path d="M8.2 15.6L10.7 14.5L9.7 16.7L11.9 16.9M13.2 15.5L14.8 17.2L13.4 18.6L15.5 19.7M14.8 17.2L15.7 16M12.8 11.2L13.2 12.5" stroke="#fff" stroke-width="1.25" fill="none"/>
<path d="M5.2 17.3L36.5 33.5C40 35.4 44 37.2 46.5 35.6C46.8 37 45.5 38.6 44.2 39.3C42 40.5 39 40 36.5 38.8L6.4 22.6C4.6 21.7 3.8 19.6 4.4 18.2Z" fill="#e4193b" stroke="#000" stroke-width="1.3"/>
<path d="M30.4 15.9L32.4 15.3M32.2 20.2L34.4 19.4M34.9 24.1L37 23.3" stroke="#000" stroke-width="1.3" fill="none"/>
<ellipse cx="14.8" cy="3.2" rx="1.8" ry="2.4" transform="rotate(22 14.8 3.2)" fill="none" stroke="#000" stroke-width="1.3"/>
<path d="M13.6 5.3C13.4 6.3 13.1 7.2 12.8 7.8" stroke="#000" stroke-width="1.3" fill="none"/>
</g>
<g transform="translate(1162.9 300.5)" stroke-linecap="round" stroke-linejoin="round">
<path d="M0.3 37.4H21.7M3.9 40.5H30.3" stroke="#7d7d7d" stroke-width="1.5" fill="none" stroke-linecap="butt"/>
<path d="M17.8 43H38.6" stroke="#7d7d7d" stroke-width="0.9" fill="none" stroke-linecap="butt"/>
<path d="M12.7 7.8C9.2 9.6 6.4 13.6 4.7 17.6L36.5 33.8C40 35.6 44 37.2 46.5 35.6C46.9 34.6 46.9 33.8 46.6 33.2C44.5 31 41.5 27.3 39.1 23.6C37 20.4 35.3 17.4 34.7 15.3C34.9 13.6 34.9 12.6 34.4 11.6C33.7 10.3 32.4 9.2 31 9.1C29.6 9.3 28.8 10.8 27.7 11.9C26.7 12.8 25.6 12.9 24.6 12.7C23 12.4 21.2 11.4 19.9 10.1C19.2 9.2 19.3 8.2 19.1 7.4C18.9 6.4 18.2 5.2 16.6 4.2Z" fill="#fff" stroke="#000" stroke-width="1.3"/>
<path d="M12.9 7.7C9.2 9.6 6.4 13.6 4.7 17.6L17.4 24C17.9 19.5 17.3 13.5 14.3 8.2Z" fill="#000" stroke="#000" stroke-width="1"/>
<path d="M8.2 15.6L10.7 14.5L9.7 16.7L11.9 16.9M13.2 15.5L14.8 17.2L13.4 18.6L15.5 19.7M14.8 17.2L15.7 16M12.8 11.2L13.2 12.5" stroke="#fff" stroke-width="1.25" fill="none"/>
<path d="M5.2 17.3L36.5 33.5C40 35.4 44 37.2 46.5 35.6C46.8 37 45.5 38.6 44.2 39.3C42 40.5 39 40 36.5 38.8L6.4 22.6C4.6 21.7 3.8 19.6 4.4 18.2Z" fill="#e4193b" stroke="#000" stroke-width="1.3"/>
<path d="M30.4 15.9L32.4 15.3M32.2 20.2L34.4 19.4M34.9 24.1L37 23.3" stroke="#000" stroke-width="1.3" fill="none"/>
<ellipse cx="14.8" cy="3.2" rx="1.8" ry="2.4" transform="rotate(22 14.8 3.2)" fill="none" stroke="#000" stroke-width="1.3"/>
<path d="M13.6 5.3C13.4 6.3 13.1 7.2 12.8 7.8" stroke="#000" stroke-width="1.3" fill="none"/>
</g>
<g transform="translate(1391.1 300.5)" stroke-linecap="round" stroke-linejoin="round">
<path d="M0.3 37.4H21.7M3.9 40.5H30.3" stroke="#7d7d7d" stroke-width="1.5" fill="none" stroke-linecap="butt"/>
<path d="M17.8 43H38.6" stroke="#7d7d7d" stroke-width="0.9" fill="none" stroke-linecap="butt"/>
<path d="M12.7 7.8C9.2 9.6 6.4 13.6 4.7 17.6L36.5 33.8C40 35.6 44 37.2 46.5 35.6C46.9 34.6 46.9 33.8 46.6 33.2C44.5 31 41.5 27.3 39.1 23.6C37 20.4 35.3 17.4 34.7 15.3C34.9 13.6 34.9 12.6 34.4 11.6C33.7 10.3 32.4 9.2 31 9.1C29.6 9.3 28.8 10.8 27.7 11.9C26.7 12.8 25.6 12.9 24.6 12.7C23 12.4 21.2 11.4 19.9 10.1C19.2 9.2 19.3 8.2 19.1 7.4C18.9 6.4 18.2 5.2 16.6 4.2Z" fill="#fff" stroke="#000" stroke-width="1.3"/>
<path d="M12.9 7.7C9.2 9.6 6.4 13.6 4.7 17.6L17.4 24C17.9 19.5 17.3 13.5 14.3 8.2Z" fill="#000" stroke="#000" stroke-width="1"/>
<path d="M8.2 15.6L10.7 14.5L9.7 16.7L11.9 16.9M13.2 15.5L14.8 17.2L13.4 18.6L15.5 19.7M14.8 17.2L15.7 16M12.8 11.2L13.2 12.5" stroke="#fff" stroke-width="1.25" fill="none"/>
<path d="M5.2 17.3L36.5 33.5C40 35.4 44 37.2 46.5 35.6C46.8 37 45.5 38.6 44.2 39.3C42 40.5 39 40 36.5 38.8L6.4 22.6C4.6 21.7 3.8 19.6 4.4 18.2Z" fill="#e4193b" stroke="#000" stroke-width="1.3"/>
<path d="M30.4 15.9L32.4 15.3M32.2 20.2L34.4 19.4M34.9 24.1L37 23.3" stroke="#000" stroke-width="1.3" fill="none"/>
<ellipse cx="14.8" cy="3.2" rx="1.8" ry="2.4" transform="rotate(22 14.8 3.2)" fill="none" stroke="#000" stroke-width="1.3"/>
<path d="M13.6 5.3C13.4 6.3 13.1 7.2 12.8 7.8" stroke="#000" stroke-width="1.3" fill="none"/>
</g>
<g transform="translate(497.4 856.2)" stroke-linecap="round" stroke-linejoin="round">
<path d="M0.3 37.4H21.7M3.9 40.5H30.3" stroke="#7d7d7d" stroke-width="1.5" fill="none" stroke-linecap="butt"/>
<path d="M17.8 43H38.6" stroke="#7d7d7d" stroke-width="0.9" fill="none" stroke-linecap="butt"/>
<path d="M12.7 7.8C9.2 9.6 6.4 13.6 4.7 17.6L36.5 33.8C40 35.6 44 37.2 46.5 35.6C46.9 34.6 46.9 33.8 46.6 33.2C44.5 31 41.5 27.3 39.1 23.6C37 20.4 35.3 17.4 34.7 15.3C34.9 13.6 34.9 12.6 34.4 11.6C33.7 10.3 32.4 9.2 31 9.1C29.6 9.3 28.8 10.8 27.7 11.9C26.7 12.8 25.6 12.9 24.6 12.7C23 12.4 21.2 11.4 19.9 10.1C19.2 9.2 19.3 8.2 19.1 7.4C18.9 6.4 18.2 5.2 16.6 4.2Z" fill="#fff" stroke="#000" stroke-width="1.3"/>
<path d="M12.9 7.7C9.2 9.6 6.4 13.6 4.7 17.6L17.4 24C17.9 19.5 17.3 13.5 14.3 8.2Z" fill="#000" stroke="#000" stroke-width="1"/>
<path d="M8.2 15.6L10.7 14.5L9.7 16.7L11.9 16.9M13.2 15.5L14.8 17.2L13.4 18.6L15.5 19.7M14.8 17.2L15.7 16M12.8 11.2L13.2 12.5" stroke="#fff" stroke-width="1.25" fill="none"/>
<path d="M5.2 17.3L36.5 33.5C40 35.4 44 37.2 46.5 35.6C46.8 37 45.5 38.6 44.2 39.3C42 40.5 39 40 36.5 38.8L6.4 22.6C4.6 21.7 3.8 19.6 4.4 18.2Z" fill="#e4193b" stroke="#000" stroke-width="1.3"/>
<path d="M30.4 15.9L32.4 15.3M32.2 20.2L34.4 19.4M34.9 24.1L37 23.3" stroke="#000" stroke-width="1.3" fill="none"/>
<ellipse cx="14.8" cy="3.2" rx="1.8" ry="2.4" transform="rotate(22 14.8 3.2)" fill="none" stroke="#000" stroke-width="1.3"/>
<path d="M13.6 5.3C13.4 6.3 13.1 7.2 12.8 7.8" stroke="#000" stroke-width="1.3" fill="none"/>
</g>
<g transform="translate(727.1 856.2)" stroke-linecap="round" stroke-linejoin="round">
<path d="M0.3 37.4H21.7M3.9 40.5H30.3" stroke="#7d7d7d" stroke-width="1.5" fill="none" stroke-linecap="butt"/>
<path d="M17.8 43H38.6" stroke="#7d7d7d" stroke-width="0.9" fill="none" stroke-linecap="butt"/>
<path d="M12.7 7.8C9.2 9.6 6.4 13.6 4.7 17.6L36.5 33.8C40 35.6 44 37.2 46.5 35.6C46.9 34.6 46.9 33.8 46.6 33.2C44.5 31 41.5 27.3 39.1 23.6C37 20.4 35.3 17.4 34.7 15.3C34.9 13.6 34.9 12.6 34.4 11.6C33.7 10.3 32.4 9.2 31 9.1C29.6 9.3 28.8 10.8 27.7 11.9C26.7 12.8 25.6 12.9 24.6 12.7C23 12.4 21.2 11.4 19.9 10.1C19.2 9.2 19.3 8.2 19.1 7.4C18.9 6.4 18.2 5.2 16.6 4.2Z" fill="#fff" stroke="#000" stroke-width="1.3"/>
<path d="M12.9 7.7C9.2 9.6 6.4 13.6 4.7 17.6L17.4 24C17.9 19.5 17.3 13.5 14.3 8.2Z" fill="#000" stroke="#000" stroke-width="1"/>
<path d="M8.2 15.6L10.7 14.5L9.7 16.7L11.9 16.9M13.2 15.5L14.8 17.2L13.4 18.6L15.5 19.7M14.8 17.2L15.7 16M12.8 11.2L13.2 12.5" stroke="#fff" stroke-width="1.25" fill="none"/>
<path d="M5.2 17.3L36.5 33.5C40 35.4 44 37.2 46.5 35.6C46.8 37 45.5 38.6 44.2 39.3C42 40.5 39 40 36.5 38.8L6.4 22.6C4.6 21.7 3.8 19.6 4.4 18.2Z" fill="#e4193b" stroke="#000" stroke-width="1.3"/>
<path d="M30.4 15.9L32.4 15.3M32.2 20.2L34.4 19.4M34.9 24.1L37 23.3" stroke="#000" stroke-width="1.3" fill="none"/>
<ellipse cx="14.8" cy="3.2" rx="1.8" ry="2.4" transform="rotate(22 14.8 3.2)" fill="none" stroke="#000" stroke-width="1.3"/>
<path d="M13.6 5.3C13.4 6.3 13.1 7.2 12.8 7.8" stroke="#000" stroke-width="1.3" fill="none"/>
</g>
<g transform="translate(949.1 856.2)" stroke-linecap="round" stroke-linejoin="round">
<path d="M0.3 37.4H21.7M3.9 40.5H30.3" stroke="#7d7d7d" stroke-width="1.5" fill="none" stroke-linecap="butt"/>
<path d="M17.8 43H38.6" stroke="#7d7d7d" stroke-width="0.9" fill="none" stroke-linecap="butt"/>
<path d="M12.7 7.8C9.2 9.6 6.4 13.6 4.7 17.6L36.5 33.8C40 35.6 44 37.2 46.5 35.6C46.9 34.6 46.9 33.8 46.6 33.2C44.5 31 41.5 27.3 39.1 23.6C37 20.4 35.3 17.4 34.7 15.3C34.9 13.6 34.9 12.6 34.4 11.6C33.7 10.3 32.4 9.2 31 9.1C29.6 9.3 28.8 10.8 27.7 11.9C26.7 12.8 25.6 12.9 24.6 12.7C23 12.4 21.2 11.4 19.9 10.1C19.2 9.2 19.3 8.2 19.1 7.4C18.9 6.4 18.2 5.2 16.6 4.2Z" fill="#fff" stroke="#000" stroke-width="1.3"/>
<path d="M12.9 7.7C9.2 9.6 6.4 13.6 4.7 17.6L17.4 24C17.9 19.5 17.3 13.5 14.3 8.2Z" fill="#000" stroke="#000" stroke-width="1"/>
<path d="M8.2 15.6L10.7 14.5L9.7 16.7L11.9 16.9M13.2 15.5L14.8 17.2L13.4 18.6L15.5 19.7M14.8 17.2L15.7 16M12.8 11.2L13.2 12.5" stroke="#fff" stroke-width="1.25" fill="none"/>
<path d="M5.2 17.3L36.5 33.5C40 35.4 44 37.2 46.5 35.6C46.8 37 45.5 38.6 44.2 39.3C42 40.5 39 40 36.5 38.8L6.4 22.6C4.6 21.7 3.8 19.6 4.4 18.2Z" fill="#e4193b" stroke="#000" stroke-width="1.3"/>
<path d="M30.4 15.9L32.4 15.3M32.2 20.2L34.4 19.4M34.9 24.1L37 23.3" stroke="#000" stroke-width="1.3" fill="none"/>
<ellipse cx="14.8" cy="3.2" rx="1.8" ry="2.4" transform="rotate(22 14.8 3.2)" fill="none" stroke="#000" stroke-width="1.3"/>
<path d="M13.6 5.3C13.4 6.3 13.1 7.2 12.8 7.8" stroke="#000" stroke-width="1.3" fill="none"/>
</g>
<g transform="translate(1167.4 856.2)" stroke-linecap="round" stroke-linejoin="round">
<path d="M0.3 37.4H21.7M3.9 40.5H30.3" stroke="#7d7d7d" stroke-width="1.5" fill="none" stroke-linecap="butt"/>
<path d="M17.8 43H38.6" stroke="#7d7d7d" stroke-width="0.9" fill="none" stroke-linecap="butt"/>
<path d="M12.7 7.8C9.2 9.6 6.4 13.6 4.7 17.6L36.5 33.8C40 35.6 44 37.2 46.5 35.6C46.9 34.6 46.9 33.8 46.6 33.2C44.5 31 41.5 27.3 39.1 23.6C37 20.4 35.3 17.4 34.7 15.3C34.9 13.6 34.9 12.6 34.4 11.6C33.7 10.3 32.4 9.2 31 9.1C29.6 9.3 28.8 10.8 27.7 11.9C26.7 12.8 25.6 12.9 24.6 12.7C23 12.4 21.2 11.4 19.9 10.1C19.2 9.2 19.3 8.2 19.1 7.4C18.9 6.4 18.2 5.2 16.6 4.2Z" fill="#fff" stroke="#000" stroke-width="1.3"/>
<path d="M12.9 7.7C9.2 9.6 6.4 13.6 4.7 17.6L17.4 24C17.9 19.5 17.3 13.5 14.3 8.2Z" fill="#000" stroke="#000" stroke-width="1"/>
<path d="M8.2 15.6L10.7 14.5L9.7 16.7L11.9 16.9M13.2 15.5L14.8 17.2L13.4 18.6L15.5 19.7M14.8 17.2L15.7 16M12.8 11.2L13.2 12.5" stroke="#fff" stroke-width="1.25" fill="none"/>
<path d="M5.2 17.3L36.5 33.5C40 35.4 44 37.2 46.5 35.6C46.8 37 45.5 38.6 44.2 39.3C42 40.5 39 40 36.5 38.8L6.4 22.6C4.6 21.7 3.8 19.6 4.4 18.2Z" fill="#e4193b" stroke="#000" stroke-width="1.3"/>
<path d="M30.4 15.9L32.4 15.3M32.2 20.2L34.4 19.4M34.9 24.1L37 23.3" stroke="#000" stroke-width="1.3" fill="none"/>
<ellipse cx="14.8" cy="3.2" rx="1.8" ry="2.4" transform="rotate(22 14.8 3.2)" fill="none" stroke="#000" stroke-width="1.3"/>
<path d="M13.6 5.3C13.4 6.3 13.1 7.2 12.8 7.8" stroke="#000" stroke-width="1.3" fill="none"/>
</g>
<g transform="translate(1394.6 856.2)" stroke-linecap="round" stroke-linejoin="round">
<path d="M0.3 37.4H21.7M3.9 40.5H30.3" stroke="#7d7d7d" stroke-width="1.5" fill="none" stroke-linecap="butt"/>
<path d="M17.8 43H38.6" stroke="#7d7d7d" stroke-width="0.9" fill="none" stroke-linecap="butt"/>
<path d="M12.7 7.8C9.2 9.6 6.4 13.6 4.7 17.6L36.5 33.8C40 35.6 44 37.2 46.5 35.6C46.9 34.6 46.9 33.8 46.6 33.2C44.5 31 41.5 27.3 39.1 23.6C37 20.4 35.3 17.4 34.7 15.3C34.9 13.6 34.9 12.6 34.4 11.6C33.7 10.3 32.4 9.2 31 9.1C29.6 9.3 28.8 10.8 27.7 11.9C26.7 12.8 25.6 12.9 24.6 12.7C23 12.4 21.2 11.4 19.9 10.1C19.2 9.2 19.3 8.2 19.1 7.4C18.9 6.4 18.2 5.2 16.6 4.2Z" fill="#fff" stroke="#000" stroke-width="1.3"/>
<path d="M12.9 7.7C9.2 9.6 6.4 13.6 4.7 17.6L17.4 24C17.9 19.5 17.3 13.5 14.3 8.2Z" fill="#000" stroke="#000" stroke-width="1"/>
<path d="M8.2 15.6L10.7 14.5L9.7 16.7L11.9 16.9M13.2 15.5L14.8 17.2L13.4 18.6L15.5 19.7M14.8 17.2L15.7 16M12.8 11.2L13.2 12.5" stroke="#fff" stroke-width="1.25" fill="none"/>
<path d="M5.2 17.3L36.5 33.5C40 35.4 44 37.2 46.5 35.6C46.8 37 45.5 38.6 44.2 39.3C42 40.5 39 40 36.5 38.8L6.4 22.6C4.6 21.7 3.8 19.6 4.4 18.2Z" fill="#e4193b" stroke="#000" stroke-width="1.3"/>
<path d="M30.4 15.9L32.4 15.3M32.2 20.2L34.4 19.4M34.9 24.1L37 23.3" stroke="#000" stroke-width="1.3" fill="none"/>
<ellipse cx="14.8" cy="3.2" rx="1.8" ry="2.4" transform="rotate(22 14.8 3.2)" fill="none" stroke="#000" stroke-width="1.3"/>
<path d="M13.6 5.3C13.4 6.3 13.1 7.2 12.8 7.8" stroke="#000" stroke-width="1.3" fill="none"/>
</g>
<g transform="translate(723.1 1189.8)" stroke-linecap="round" stroke-linejoin="round">
<path d="M0.3 37.4H21.7M3.9 40.5H30.3" stroke="#7d7d7d" stroke-width="1.5" fill="none" stroke-linecap="butt"/>
<path d="M17.8 43H38.6" stroke="#7d7d7d" stroke-width="0.9" fill="none" stroke-linecap="butt"/>
<path d="M12.7 7.8C9.2 9.6 6.4 13.6 4.7 17.6L36.5 33.8C40 35.6 44 37.2 46.5 35.6C46.9 34.6 46.9 33.8 46.6 33.2C44.5 31 41.5 27.3 39.1 23.6C37 20.4 35.3 17.4 34.7 15.3C34.9 13.6 34.9 12.6 34.4 11.6C33.7 10.3 32.4 9.2 31 9.1C29.6 9.3 28.8 10.8 27.7 11.9C26.7 12.8 25.6 12.9 24.6 12.7C23 12.4 21.2 11.4 19.9 10.1C19.2 9.2 19.3 8.2 19.1 7.4C18.9 6.4 18.2 5.2 16.6 4.2Z" fill="#fff" stroke="#000" stroke-width="1.3"/>
<path d="M12.9 7.7C9.2 9.6 6.4 13.6 4.7 17.6L17.4 24C17.9 19.5 17.3 13.5 14.3 8.2Z" fill="#000" stroke="#000" stroke-width="1"/>
<path d="M8.2 15.6L10.7 14.5L9.7 16.7L11.9 16.9M13.2 15.5L14.8 17.2L13.4 18.6L15.5 19.7M14.8 17.2L15.7 16M12.8 11.2L13.2 12.5" stroke="#fff" stroke-width="1.25" fill="none"/>
<path d="M5.2 17.3L36.5 33.5C40 35.4 44 37.2 46.5 35.6C46.8 37 45.5 38.6 44.2 39.3C42 40.5 39 40 36.5 38.8L6.4 22.6C4.6 21.7 3.8 19.6 4.4 18.2Z" fill="#e4193b" stroke="#000" stroke-width="1.3"/>
<path d="M30.4 15.9L32.4 15.3M32.2 20.2L34.4 19.4M34.9 24.1L37 23.3" stroke="#000" stroke-width="1.3" fill="none"/>
<ellipse cx="14.8" cy="3.2" rx="1.8" ry="2.4" transform="rotate(22 14.8 3.2)" fill="none" stroke="#000" stroke-width="1.3"/>
<path d="M13.6 5.3C13.4 6.3 13.1 7.2 12.8 7.8" stroke="#000" stroke-width="1.3" fill="none"/>
</g>
<g transform="translate(945.7 1189.8)" stroke-linecap="round" stroke-linejoin="round">
<path d="M0.3 37.4H21.7M3.9 40.5H30.3" stroke="#7d7d7d" stroke-width="1.5" fill="none" stroke-linecap="butt"/>
<path d="M17.8 43H38.6" stroke="#7d7d7d" stroke-width="0.9" fill="none" stroke-linecap="butt"/>
<path d="M12.7 7.8C9.2 9.6 6.4 13.6 4.7 17.6L36.5 33.8C40 35.6 44 37.2 46.5 35.6C46.9 34.6 46.9 33.8 46.6 33.2C44.5 31 41.5 27.3 39.1 23.6C37 20.4 35.3 17.4 34.7 15.3C34.9 13.6 34.9 12.6 34.4 11.6C33.7 10.3 32.4 9.2 31 9.1C29.6 9.3 28.8 10.8 27.7 11.9C26.7 12.8 25.6 12.9 24.6 12.7C23 12.4 21.2 11.4 19.9 10.1C19.2 9.2 19.3 8.2 19.1 7.4C18.9 6.4 18.2 5.2 16.6 4.2Z" fill="#fff" stroke="#000" stroke-width="1.3"/>
<path d="M12.9 7.7C9.2 9.6 6.4 13.6 4.7 17.6L17.4 24C17.9 19.5 17.3 13.5 14.3 8.2Z" fill="#000" stroke="#000" stroke-width="1"/>
<path d="M8.2 15.6L10.7 14.5L9.7 16.7L11.9 16.9M13.2 15.5L14.8 17.2L13.4 18.6L15.5 19.7M14.8 17.2L15.7 16M12.8 11.2L13.2 12.5" stroke="#fff" stroke-width="1.25" fill="none"/>
<path d="M5.2 17.3L36.5 33.5C40 35.4 44 37.2 46.5 35.6C46.8 37 45.5 38.6 44.2 39.3C42 40.5 39 40 36.5 38.8L6.4 22.6C4.6 21.7 3.8 19.6 4.4 18.2Z" fill="#e4193b" stroke="#000" stroke-width="1.3"/>
<path d="M30.4 15.9L32.4 15.3M32.2 20.2L34.4 19.4M34.9 24.1L37 23.3" stroke="#000" stroke-width="1.3" fill="none"/>
<ellipse cx="14.8" cy="3.2" rx="1.8" ry="2.4" transform="rotate(22 14.8 3.2)" fill="none" stroke="#000" stroke-width="1.3"/>
<path d="M13.6 5.3C13.4 6.3 13.1 7.2 12.8 7.8" stroke="#000" stroke-width="1.3" fill="none"/>
</g>
<g transform="translate(1162.9 1189.8)" stroke-linecap="round" stroke-linejoin="round">
<path d="M0.3 37.4H21.7M3.9 40.5H30.3" stroke="#7d7d7d" stroke-width="1.5" fill="none" stroke-linecap="butt"/>
<path d="M17.8 43H38.6" stroke="#7d7d7d" stroke-width="0.9" fill="none" stroke-linecap="butt"/>
<path d="M12.7 7.8C9.2 9.6 6.4 13.6 4.7 17.6L36.5 33.8C40 35.6 44 37.2 46.5 35.6C46.9 34.6 46.9 33.8 46.6 33.2C44.5 31 41.5 27.3 39.1 23.6C37 20.4 35.3 17.4 34.7 15.3C34.9 13.6 34.9 12.6 34.4 11.6C33.7 10.3 32.4 9.2 31 9.1C29.6 9.3 28.8 10.8 27.7 11.9C26.7 12.8 25.6 12.9 24.6 12.7C23 12.4 21.2 11.4 19.9 10.1C19.2 9.2 19.3 8.2 19.1 7.4C18.9 6.4 18.2 5.2 16.6 4.2Z" fill="#fff" stroke="#000" stroke-width="1.3"/>
<path d="M12.9 7.7C9.2 9.6 6.4 13.6 4.7 17.6L17.4 24C17.9 19.5 17.3 13.5 14.3 8.2Z" fill="#000" stroke="#000" stroke-width="1"/>
<path d="M8.2 15.6L10.7 14.5L9.7 16.7L11.9 16.9M13.2 15.5L14.8 17.2L13.4 18.6L15.5 19.7M14.8 17.2L15.7 16M12.8 11.2L13.2 12.5" stroke="#fff" stroke-width="1.25" fill="none"/>
<path d="M5.2 17.3L36.5 33.5C40 35.4 44 37.2 46.5 35.6C46.8 37 45.5 38.6 44.2 39.3C42 40.5 39 40 36.5 38.8L6.4 22.6C4.6 21.7 3.8 19.6 4.4 18.2Z" fill="#e4193b" stroke="#000" stroke-width="1.3"/>
<path d="M30.4 15.9L32.4 15.3M32.2 20.2L34.4 19.4M34.9 24.1L37 23.3" stroke="#000" stroke-width="1.3" fill="none"/>
<ellipse cx="14.8" cy="3.2" rx="1.8" ry="2.4" transform="rotate(22 14.8 3.2)" fill="none" stroke="#000" stroke-width="1.3"/>
<path d="M13.6 5.3C13.4 6.3 13.1 7.2 12.8 7.8" stroke="#000" stroke-width="1.3" fill="none"/>
</g>
<g transform="translate(1391.1 1189.8)" stroke-linecap="round" stroke-linejoin="round">
<path d="M0.3 37.4H21.7M3.9 40.5H30.3" stroke="#7d7d7d" stroke-width="1.5" fill="none" stroke-linecap="butt"/>
<path d="M17.8 43H38.6" stroke="#7d7d7d" stroke-width="0.9" fill="none" stroke-linecap="butt"/>
<path d="M12.7 7.8C9.2 9.6 6.4 13.6 4.7 17.6L36.5 33.8C40 35.6 44 37.2 46.5 35.6C46.9 34.6 46.9 33.8 46.6 33.2C44.5 31 41.5 27.3 39.1 23.6C37 20.4 35.3 17.4 34.7 15.3C34.9 13.6 34.9 12.6 34.4 11.6C33.7 10.3 32.4 9.2 31 9.1C29.6 9.3 28.8 10.8 27.7 11.9C26.7 12.8 25.6 12.9 24.6 12.7C23 12.4 21.2 11.4 19.9 10.1C19.2 9.2 19.3 8.2 19.1 7.4C18.9 6.4 18.2 5.2 16.6 4.2Z" fill="#fff" stroke="#000" stroke-width="1.3"/>
<path d="M12.9 7.7C9.2 9.6 6.4 13.6 4.7 17.6L17.4 24C17.9 19.5 17.3 13.5 14.3 8.2Z" fill="#000" stroke="#000" stroke-width="1"/>
<path d="M8.2 15.6L10.7 14.5L9.7 16.7L11.9 16.9M13.2 15.5L14.8 17.2L13.4 18.6L15.5 19.7M14.8 17.2L15.7 16M12.8 11.2L13.2 12.5" stroke="#fff" stroke-width="1.25" fill="none"/>
<path d="M5.2 17.3L36.5 33.5C40 35.4 44 37.2 46.5 35.6C46.8 37 45.5 38.6 44.2 39.3C42 40.5 39 40 36.5 38.8L6.4 22.6C4.6 21.7 3.8 19.6 4.4 18.2Z" fill="#e4193b" stroke="#000" stroke-width="1.3"/>
<path d="M30.4 15.9L32.4 15.3M32.2 20.2L34.4 19.4M34.9 24.1L37 23.3" stroke="#000" stroke-width="1.3" fill="none"/>
<ellipse cx="14.8" cy="3.2" rx="1.8" ry="2.4" transform="rotate(22 14.8 3.2)" fill="none" stroke="#000" stroke-width="1.3"/>
<path d="M13.6 5.3C13.4 6.3 13.1 7.2 12.8 7.8" stroke="#000" stroke-width="1.3" fill="none"/>
</g>
<g transform="translate(949.1 1411.9)" stroke-linecap="round" stroke-linejoin="round">
<path d="M0.3 37.4H21.7M3.9 40.5H30.3" stroke="#7d7d7d" stroke-width="1.5" fill="none" stroke-linecap="butt"/>
<path d="M17.8 43H38.6" stroke="#7d7d7d" stroke-width="0.9" fill="none" stroke-linecap="butt"/>
<path d="M12.7 7.8C9.2 9.6 6.4 13.6 4.7 17.6L36.5 33.8C40 35.6 44 37.2 46.5 35.6C46.9 34.6 46.9 33.8 46.6 33.2C44.5 31 41.5 27.3 39.1 23.6C37 20.4 35.3 17.4 34.7 15.3C34.9 13.6 34.9 12.6 34.4 11.6C33.7 10.3 32.4 9.2 31 9.1C29.6 9.3 28.8 10.8 27.7 11.9C26.7 12.8 25.6 12.9 24.6 12.7C23 12.4 21.2 11.4 19.9 10.1C19.2 9.2 19.3 8.2 19.1 7.4C18.9 6.4 18.2 5.2 16.6 4.2Z" fill="#fff" stroke="#000" stroke-width="1.3"/>
<path d="M12.9 7.7C9.2 9.6 6.4 13.6 4.7 17.6L17.4 24C17.9 19.5 17.3 13.5 14.3 8.2Z" fill="#000" stroke="#000" stroke-width="1"/>
<path d="M8.2 15.6L10.7 14.5L9.7 16.7L11.9 16.9M13.2 15.5L14.8 17.2L13.4 18.6L15.5 19.7M14.8 17.2L15.7 16M12.8 11.2L13.2 12.5" stroke="#fff" stroke-width="1.25" fill="none"/>
<path d="M5.2 17.3L36.5 33.5C40 35.4 44 37.2 46.5 35.6C46.8 37 45.5 38.6 44.2 39.3C42 40.5 39 40 36.5 38.8L6.4 22.6C4.6 21.7 3.8 19.6 4.4 18.2Z" fill="#e4193b" stroke="#000" stroke-width="1.3"/>
<path d="M30.4 15.9L32.4 15.3M32.2 20.2L34.4 19.4M34.9 24.1L37 23.3" stroke="#000" stroke-width="1.3" fill="none"/>
<ellipse cx="14.8" cy="3.2" rx="1.8" ry="2.4" transform="rotate(22 14.8 3.2)" fill="none" stroke="#000" stroke-width="1.3"/>
<path d="M13.6 5.3C13.4 6.3 13.1 7.2 12.8 7.8" stroke="#000" stroke-width="1.3" fill="none"/>
</g>
<g transform="translate(1167.4 1411.9)" stroke-linecap="round" stroke-linejoin="round">
<path d="M0.3 37.4H21.7M3.9 40.5H30.3" stroke="#7d7d7d" stroke-width="1.5" fill="none" stroke-linecap="butt"/>
<path d="M17.8 43H38.6" stroke="#7d7d7d" stroke-width="0.9" fill="none" stroke-linecap="butt"/>
<path d="M12.7 7.8C9.2 9.6 6.4 13.6 4.7 17.6L36.5 33.8C40 35.6 44 37.2 46.5 35.6C46.9 34.6 46.9 33.8 46.6 33.2C44.5 31 41.5 27.3 39.1 23.6C37 20.4 35.3 17.4 34.7 15.3C34.9 13.6 34.9 12.6 34.4 11.6C33.7 10.3 32.4 9.2 31 9.1C29.6 9.3 28.8 10.8 27.7 11.9C26.7 12.8 25.6 12.9 24.6 12.7C23 12.4 21.2 11.4 19.9 10.1C19.2 9.2 19.3 8.2 19.1 7.4C18.9 6.4 18.2 5.2 16.6 4.2Z" fill="#fff" stroke="#000" stroke-width="1.3"/>
<path d="M12.9 7.7C9.2 9.6 6.4 13.6 4.7 17.6L17.4 24C17.9 19.5 17.3 13.5 14.3 8.2Z" fill="#000" stroke="#000" stroke-width="1"/>
<path d="M8.2 15.6L10.7 14.5L9.7 16.7L11.9 16.9M13.2 15.5L14.8 17.2L13.4 18.6L15.5 19.7M14.8 17.2L15.7 16M12.8 11.2L13.2 12.5" stroke="#fff" stroke-width="1.25" fill="none"/>
<path d="M5.2 17.3L36.5 33.5C40 35.4 44 37.2 46.5 35.6C46.8 37 45.5 38.6 44.2 39.3C42 40.5 39 40 36.5 38.8L6.4 22.6C4.6 21.7 3.8 19.6 4.4 18.2Z" fill="#e4193b" stroke="#000" stroke-width="1.3"/>
<path d="M30.4 15.9L32.4 15.3M32.2 20.2L34.4 19.4M34.9 24.1L37 23.3" stroke="#000" stroke-width="1.3" fill="none"/>
<ellipse cx="14.8" cy="3.2" rx="1.8" ry="2.4" transform="rotate(22 14.8 3.2)" fill="none" stroke="#000" stroke-width="1.3"/>
<path d="M13.6 5.3C13.4 6.3 13.1 7.2 12.8 7.8" stroke="#000" stroke-width="1.3" fill="none"/>
</g>
<g transform="translate(1394.6 1411.9)" stroke-linecap="round" stroke-linejoin="round">
<path d="M0.3 37.4H21.7M3.9 40.5H30.3" stroke="#7d7d7d" stroke-width="1.5" fill="none" stroke-linecap="butt"/>
<path d="M17.8 43H38.6" stroke="#7d7d7d" stroke-width="0.9" fill="none" stroke-linecap="butt"/>
<path d="M12.7 7.8C9.2 9.6 6.4 13.6 4.7 17.6L36.5 33.8C40 35.6 44 37.2 46.5 35.6C46.9 34.6 46.9 33.8 46.6 33.2C44.5 31 41.5 27.3 39.1 23.6C37 20.4 35.3 17.4 34.7 15.3C34.9 13.6 34.9 12.6 34.4 11.6C33.7 10.3 32.4 9.2 31 9.1C29.6 9.3 28.8 10.8 27.7 11.9C26.7 12.8 25.6 12.9 24.6 12.7C23 12.4 21.2 11.4 19.9 10.1C19.2 9.2 19.3 8.2 19.1 7.4C18.9 6.4 18.2 5.2 16.6 4.2Z" fill="#fff" stroke="#000" stroke-width="1.3"/>
<path d="M12.9 7.7C9.2 9.6 6.4 13.6 4.7 17.6L17.4 24C17.9 19.5 17.3 13.5 14.3 8.2Z" fill="#000" stroke="#000" stroke-width="1"/>
<path d="M8.2 15.6L10.7 14.5L9.7 16.7L11.9 16.9M13.2 15.5L14.8 17.2L13.4 18.6L15.5 19.7M14.8 17.2L15.7 16M12.8 11.2L13.2 12.5" stroke="#fff" stroke-width="1.25" fill="none"/>
<path d="M5.2 17.3L36.5 33.5C40 35.4 44 37.2 46.5 35.6C46.8 37 45.5 38.6 44.2 39.3C42 40.5 39 40 36.5 38.8L6.4 22.6C4.6 21.7 3.8 19.6 4.4 18.2Z" fill="#e4193b" stroke="#000" stroke-width="1.3"/>
<path d="M30.4 15.9L32.4 15.3M32.2 20.2L34.4 19.4M34.9 24.1L37 23.3" stroke="#000" stroke-width="1.3" fill="none"/>
<ellipse cx="14.8" cy="3.2" rx="1.8" ry="2.4" transform="rotate(22 14.8 3.2)" fill="none" stroke="#000" stroke-width="1.3"/>
<path d="M13.6 5.3C13.4 6.3 13.1 7.2 12.8 7.8" stroke="#000" stroke-width="1.3" fill="none"/>
</g>
<filter id="grit" x="-5%" y="-20%" width="110%" height="140%" color-interpolation-filters="sRGB">
<feTurbulence type="fractalNoise" baseFrequency="0.75" numOctaves="2" seed="7" result="n"/>
<feColorMatrix in="n" type="matrix" values="0 0 0 0 0  0 0 0 0 0  0 0 0 0 0  0 0 0 -12 8.75" result="m"/>
<feComposite in="SourceGraphic" in2="m" operator="in"/>
</filter>
<g transform="translate(1410.6 161.6) rotate(16.84)">
<rect x="-121.3" y="-34.7" width="242.6" height="69.4" fill="#e0394c"/>
<g filter="url(#grit)">
<rect x="-114" y="-30" width="228" height="60" fill="none" stroke="#fff" stroke-width="1.2"/>
<text transform="translate(-0.5 18.6) skewX(-3) scale(0.708 1)" text-anchor="middle" font-family="'Liberation Sans', sans-serif" font-weight="700" font-size="52.5" fill="#fff" stroke="#fff" stroke-width="2.4" letter-spacing="2.5" stroke-linejoin="round" vector-effect="non-scaling-stroke">SOLD OUT</text>
</g>
</g>
</svg>
</body>
</html>
